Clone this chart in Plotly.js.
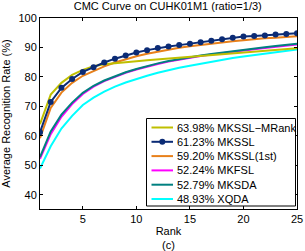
<!DOCTYPE html>
<html><head><meta charset="utf-8">
<script src="https://cdn.plot.ly/plotly-3.0.1.min.js"></script>
<style>html,body{margin:0;padding:0;background:#fff}#chart{width:305px;height:251px}</style>
</head><body><div id="chart"></div>
<script>
const ranks = [1,2,3,4,5,6,7,8,9,10,11,12,13,14,15,16,17,18,19,20,21,22,23,24,25];
const seriesNames = ["63.98% MKSSL\u2212MRank","61.23% MKSSL","59.20% MKSSL(1st)","52.24% MKFSL","52.79% MKSDA","48.93% XQDA"];
const mksslMRank = [63.98,74.0,78.0,80.7,82.4,83.6,84.3,84.6,84.8,85.3,85.7,86.0,86.3,86.6,86.9,87.2,87.5,87.8,88.1,88.4,88.7,88.9,89.2,89.5,89.7];
const mkssl = [61.23,71.5,76.3,79.3,81.7,83.3,84.9,86.2,87.3,88.3,89.1,89.8,90.3,90.8,91.3,91.8,92.3,92.8,93.3,93.7,93.9,94.1,94.4,94.6,94.8];
const mkssl1st = [59.20,69.5,74.7,78.0,80.4,82.1,83.6,84.9,86.0,87.0,87.9,88.6,89.3,89.9,90.4,90.9,91.3,91.7,92.1,92.5,92.8,93.1,93.3,93.6,93.8];
const mkfsl = [52.24,60.6,66.5,70.8,74.2,76.7,78.6,80.1,81.4,82.5,83.5,84.4,85.2,85.9,86.5,87.1,87.6,88.1,88.6,89.0,89.4,89.8,90.2,90.6,91.0];
const mksda = [52.79,61.5,67.2,71.3,74.6,77.0,78.8,80.3,81.6,82.7,83.7,84.6,85.4,86.1,86.7,87.3,87.8,88.3,88.8,89.3,89.7,90.1,90.5,90.9,91.3];
const xqda = [48.93,56.5,62.5,66.8,70.5,73.0,75.0,76.7,78.1,79.3,80.4,81.4,82.3,83.1,83.8,84.5,85.2,85.8,86.4,86.9,87.4,87.9,88.4,88.9,89.3];
const xTicks = [5,10,15,20,25];
const yTicks = [40,50,60,70,80,90,100];

const values = [mksslMRank, mkssl, mkssl1st, mkfsl, mksda, xqda];
const colors = ["#BFBF00","#0B2B75","#E8801A","#FF00FF","#008080","#00FFFF"];
const traces = values.map((v,i)=>({
  x: ranks, y: v, name: seriesNames[i], type:'scatter',
  mode: i===1 ? 'lines+markers' : 'lines',
  line: {color: colors[i], width: 2},
  marker: {color: colors[i], size: 6},
  showlegend: false
}));
const order = [5,3,4,2,0,1];
const data = order.map(i=>traces[i]);

const font = {family:'"Liberation Sans", Arial, sans-serif', size:11, color:'#000'};
const axisCommon = {showline:true, mirror:'allticks', linecolor:'#000', linewidth:1,
  ticks:'inside', ticklen:3, tickcolor:'#000', showgrid:false, zeroline:false, tickfont:font};

const W = 305, H = 251, mL = 40, mR = 8, mT = 18, mB = 42;
const pw = W - mL - mR, ph = H - mT - mB;
const px2x = p => (p - mL) / pw;
const py2y = p => (H - mB - p) / ph;
const shapes = [{type:'rect', xref:'paper', yref:'paper', x0:px2x(146.5), x1:px2x(295.5), y0:py2y(206), y1:py2y(118.5),
  line:{color:'#000', width:1}, fillcolor:'#fff', layer:'above'}];
const annotations = [];
seriesNames.forEach((nm,i)=>{
  const yy = 127.5 + i*14.3;
  shapes.push({type:'line', xref:'paper', yref:'paper', x0:px2x(151.5), x1:px2x(173), y0:py2y(yy), y1:py2y(yy),
    line:{color:colors[i], width:2}, layer:'above'});
  if (i===1) shapes.push({type:'circle', xref:'paper', yref:'paper', xsizemode:'pixel', ysizemode:'pixel',
    xanchor:px2x(162.3), yanchor:py2y(yy), x0:-3, x1:3, y0:-3, y1:3, fillcolor:colors[i], line:{color:colors[i], width:0}, layer:'above'});
  annotations.push({xref:'paper', yref:'paper', x:px2x(174.5), y:py2y(yy), xanchor:'left', yanchor:'middle',
    text:nm, showarrow:false, font:font});
});

const layout = {
  width:W, height:H,
  margin:{l:mL, r:mR, t:mT, b:mB},
  paper_bgcolor:'#fff', plot_bgcolor:'#fff',
  font: font,
  title:{text:'CMC Curve on CUHK01M1 (ratio=1/3)', font:{...font, size:11}, x:0.55, xanchor:'center', y:0.99, yanchor:'top'},
  xaxis:{...axisCommon, range:[1,25], tickvals:xTicks, ticktext:xTicks.map(String),
    title:{text:'Rank<br>(c)', font:font, standoff:10}},
  yaxis:{...axisCommon, range:[35.2,100], tickvals:yTicks, ticktext:yTicks.map(String),
    title:{text:'Average Recognition Rate (%)', font:font, standoff:6}},
  showlegend:false,
  shapes: shapes,
  annotations: annotations
};
Plotly.newPlot('chart', data, layout, {displayModeBar:false, staticPlot:true});
</script></body></html>
